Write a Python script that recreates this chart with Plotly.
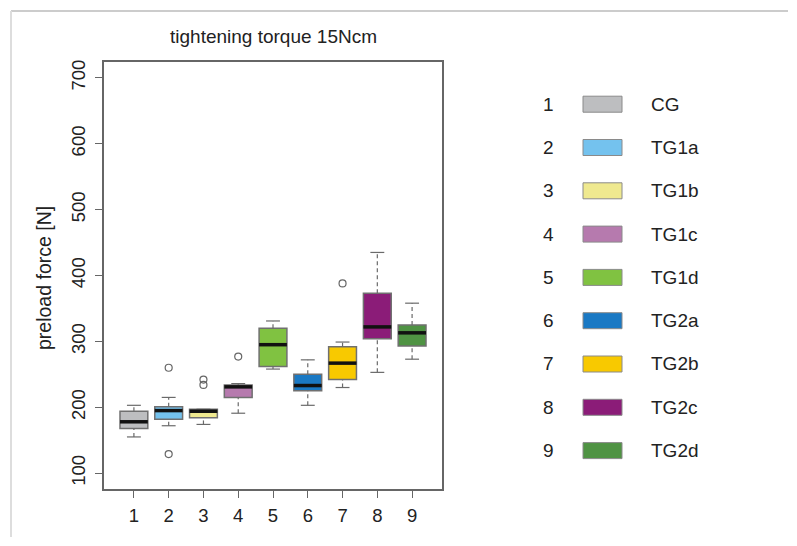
import plotly.graph_objects as go

# ---- data ----
groups = ["CG", "TG1a", "TG1b", "TG1c", "TG1d", "TG2a", "TG2b", "TG2c", "TG2d"]
positions = [1, 2, 3, 4, 5, 6, 7, 8, 9]
lower_whisker = [155, 172, 174, 191, 258, 203, 230, 253, 273]
q1 = [168, 182, 184, 215, 262, 225, 242, 304, 293]
median = [178, 195, 194, 231, 295, 233, 267, 322, 313]
q3 = [194, 201, 197, 234, 320, 250, 292, 373, 325]
upper_whisker = [203, 215, 197, 236, 331, 272, 299, 435, 358]
outlier_group = [2, 2, 3, 3, 4, 7]
outlier_value = [260, 129, 242, 234, 277, 388]
colors = ["#bdbec0", "#74c2ee", "#efe98f", "#b67aae", "#80c241",
          "#1a79c4", "#f8c900", "#8b1c78", "#4f9343"]
y_ticks = [100, 200, 300, 400, 500, 600, 700]

FONT = "Liberation Sans, Arial, sans-serif"
TXT = "#222222"
half = 0.4
cap = 0.2

fig = go.Figure()

# whiskers (dashed)
wx, wy = [], []
for p, lo, a, b, hi in zip(positions, lower_whisker, q1, q3, upper_whisker):
    wx += [p, p, None, p, p, None]
    wy += [lo, a, None, b, hi, None]
fig.add_trace(go.Scatter(x=wx, y=wy, mode="lines", hoverinfo="skip",
                         line=dict(color="#6a6a6a", width=1.2, dash="4px,3px")))
# caps
cx, cy = [], []
for p, lo, hi in zip(positions, lower_whisker, upper_whisker):
    cx += [p - cap, p + cap, None, p - cap, p + cap, None]
    cy += [lo, lo, None, hi, hi, None]
fig.add_trace(go.Scatter(x=cx, y=cy, mode="lines", hoverinfo="skip",
                         line=dict(color="#6a6a6a", width=1.2)))
# boxes
fig.add_trace(go.Bar(x=positions, base=q1, y=[b - a for a, b in zip(q1, q3)],
                     width=0.8, marker=dict(color=colors,
                                            line=dict(color="#707070", width=1.5)),
                     hovertext=groups))
# medians
mx, my = [], []
for p, m in zip(positions, median):
    mx += [p - half, p + half, None]
    my += [m, m, None]
fig.add_trace(go.Scatter(x=mx, y=my, mode="lines", hoverinfo="skip",
                         line=dict(color="#111111", width=3.5)))
# outliers
fig.add_trace(go.Scatter(x=outlier_group, y=outlier_value, mode="markers",
                         marker=dict(symbol="circle-open", size=7,
                                     color="#666666", line=dict(width=1.2))))

# ---- geometry (window pixels; page body has an 8px margin) ----
O = 8
FW, FH = 797 - 2 * O, 546 - 2 * O
L, R, T, B = 104 - O, 442 - O, 62 - O, 489 - O
W, H = R - L, B - T


def px(x):
    return (x - O - L) / W


def py(y):
    return (B - (y - O)) / H


shapes = []
# thin frame of the image (top and left only)
shapes.append(dict(type="line", xref="paper", yref="paper", x0=px(11), x1=px(788),
                   y0=py(11), y1=py(11), line=dict(color="#cccccc", width=2)))
shapes.append(dict(type="line", xref="paper", yref="paper", x0=px(11), x1=px(11),
                   y0=py(11), y1=py(537), line=dict(color="#dddddd", width=2)))

annotations = []
row0, step = 104.2, 43.3
for i, (g, c) in enumerate(zip(groups, colors)):
    yc = row0 + i * step
    shapes.append(dict(type="rect", xref="paper", yref="paper",
                       x0=px(583), x1=px(622), y0=py(yc + 8), y1=py(yc - 8),
                       fillcolor=c, line=dict(color="#8a8a8a", width=1)))
    annotations.append(dict(xref="paper", yref="paper", x=px(548), y=py(yc),
                            text=str(positions[i]), showarrow=False,
                            xanchor="center", yanchor="middle",
                            font=dict(family=FONT, size=19, color=TXT)))
    annotations.append(dict(xref="paper", yref="paper", x=px(649), y=py(yc),
                            text=g, showarrow=False, xanchor="left",
                            yanchor="middle",
                            font=dict(family=FONT, size=19, color=TXT)))

annotations.append(dict(xref="paper", yref="paper", x=px(273), y=py(37),
                        text="tightening torque 15Ncm", showarrow=False,
                        xanchor="center", yanchor="middle",
                        font=dict(family=FONT, size=19, color=TXT)))
annotations.append(dict(xref="paper", yref="paper", x=px(44), y=py(278),
                        text="preload force [N]", showarrow=False, textangle=-90,
                        xanchor="center", yanchor="middle",
                        font=dict(family=FONT, size=19.5, color=TXT)))

fig.update_layout(
    width=FW, height=FH,
    margin=dict(l=L, r=FW - R, t=T, b=FH - B, autoexpand=False),
    paper_bgcolor="white", plot_bgcolor="white",
    showlegend=False,
    shapes=shapes, annotations=annotations,
    font=dict(family=FONT, color=TXT),
    xaxis=dict(range=[0.14, 9.86], tickmode="array", tickvals=positions,
               ticktext=[str(p) for p in positions], ticks="outside",
               ticklen=7, tickcolor="#666666", showgrid=False, zeroline=False,
               showline=True, linecolor="#666666", linewidth=1.5, mirror=True,
               ticklabelstandoff=2,
               tickfont=dict(size=18.5, color=TXT)),
    yaxis=dict(range=[76, 724], tickmode="array", tickvals=y_ticks,
               ticks="outside", ticklen=7, tickcolor="#666666", tickangle=-90,
               showgrid=False, zeroline=False, showline=True,
               linecolor="#666666", linewidth=1.5, mirror=True,
               ticklabelstandoff=3,
               tickfont=dict(size=18.5, color=TXT)),
)

fig.write_html("out.html")
